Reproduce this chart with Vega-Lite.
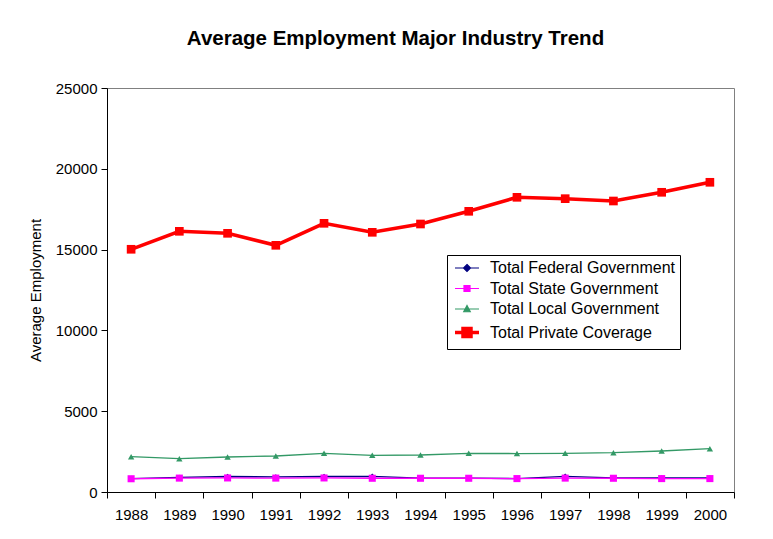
{
  "$schema": "https://vega.github.io/schema/vega-lite/v6.json",
  "width": 627,
  "height": 404,
  "autosize": {"type": "none"},
  "padding": {"left": 107, "top": 88, "right": 39, "bottom": 47},
  "background": "white",
  "title": {
    "text": "Average Employment Major Industry Trend",
    "font": "Liberation Sans",
    "fontSize": 20.5,
    "fontWeight": "bold",
    "color": "black",
    "anchor": "middle",
    "dx": -25,
    "offset": 32
  },
  "config": {
    "view": {"stroke": "#808080", "strokeWidth": 1},
    "axis": {
      "labelFont": "Liberation Sans",
      "labelFontSize": 15,
      "labelColor": "black",
      "titleFont": "Liberation Sans",
      "titleFontSize": 15,
      "titleFontWeight": "normal",
      "titleColor": "black",
      "domainColor": "black",
      "tickColor": "black",
      "grid": false
    }
  },
  "data": {
    "values": [
      {"year": "1988", "series": "Total Federal Government", "value": 830},
      {"year": "1989", "series": "Total Federal Government", "value": 900},
      {"year": "1990", "series": "Total Federal Government", "value": 960},
      {"year": "1991", "series": "Total Federal Government", "value": 930},
      {"year": "1992", "series": "Total Federal Government", "value": 960},
      {"year": "1993", "series": "Total Federal Government", "value": 970},
      {"year": "1994", "series": "Total Federal Government", "value": 860},
      {"year": "1995", "series": "Total Federal Government", "value": 860},
      {"year": "1996", "series": "Total Federal Government", "value": 830},
      {"year": "1997", "series": "Total Federal Government", "value": 970},
      {"year": "1998", "series": "Total Federal Government", "value": 880},
      {"year": "1999", "series": "Total Federal Government", "value": 870},
      {"year": "2000", "series": "Total Federal Government", "value": 870},
      {"year": "1988", "series": "Total State Government", "value": 820},
      {"year": "1989", "series": "Total State Government", "value": 860},
      {"year": "1990", "series": "Total State Government", "value": 870},
      {"year": "1991", "series": "Total State Government", "value": 860},
      {"year": "1992", "series": "Total State Government", "value": 870},
      {"year": "1993", "series": "Total State Government", "value": 850},
      {"year": "1994", "series": "Total State Government", "value": 850},
      {"year": "1995", "series": "Total State Government", "value": 850},
      {"year": "1996", "series": "Total State Government", "value": 830},
      {"year": "1997", "series": "Total State Government", "value": 860},
      {"year": "1998", "series": "Total State Government", "value": 850},
      {"year": "1999", "series": "Total State Government", "value": 830},
      {"year": "2000", "series": "Total State Government", "value": 830},
      {"year": "1988", "series": "Total Local Government", "value": 2184},
      {"year": "1989", "series": "Total Local Government", "value": 2061},
      {"year": "1990", "series": "Total Local Government", "value": 2166},
      {"year": "1991", "series": "Total Local Government", "value": 2228},
      {"year": "1992", "series": "Total Local Government", "value": 2393},
      {"year": "1993", "series": "Total Local Government", "value": 2270},
      {"year": "1994", "series": "Total Local Government", "value": 2290},
      {"year": "1995", "series": "Total Local Government", "value": 2393},
      {"year": "1996", "series": "Total Local Government", "value": 2380},
      {"year": "1997", "series": "Total Local Government", "value": 2393},
      {"year": "1998", "series": "Total Local Government", "value": 2432},
      {"year": "1999", "series": "Total Local Government", "value": 2537},
      {"year": "2000", "series": "Total Local Government", "value": 2680},
      {"year": "1988", "series": "Total Private Coverage", "value": 15020},
      {"year": "1989", "series": "Total Private Coverage", "value": 16132},
      {"year": "1990", "series": "Total Private Coverage", "value": 16008},
      {"year": "1991", "series": "Total Private Coverage", "value": 15266},
      {"year": "1992", "series": "Total Private Coverage", "value": 16627},
      {"year": "1993", "series": "Total Private Coverage", "value": 16070},
      {"year": "1994", "series": "Total Private Coverage", "value": 16584},
      {"year": "1995", "series": "Total Private Coverage", "value": 17370},
      {"year": "1996", "series": "Total Private Coverage", "value": 18236},
      {"year": "1997", "series": "Total Private Coverage", "value": 18152},
      {"year": "1998", "series": "Total Private Coverage", "value": 18007},
      {"year": "1999", "series": "Total Private Coverage", "value": 18546},
      {"year": "2000", "series": "Total Private Coverage", "value": 19165}
    ]
  },
  "encoding": {
    "x": {
      "field": "year",
      "type": "ordinal",
      "scale": {"type": "band", "paddingInner": 0, "paddingOuter": 0},
      "axis": {
        "title": null,
        "labelAngle": 0,
        "tickBand": "extent",
        "tickSize": 6,
        "labelPadding": 9
      }
    },
    "y": {
      "field": "value",
      "type": "quantitative",
      "scale": {"domain": [0, 25000], "nice": false},
      "axis": {
        "title": "Average Employment",
        "values": [0, 5000, 10000, 15000, 20000, 25000],
        "format": "d",
        "tickSize": 6,
        "labelPadding": 4,
        "titleX": -72,
        "titleY": 202,
        "titleAngle": -90,
        "titleAlign": "center",
        "titleBaseline": "middle"
      }
    },
    "color": {
      "field": "series",
      "type": "nominal",
      "scale": {
        "domain": ["Total Federal Government", "Total State Government", "Total Local Government", "Total Private Coverage"],
        "range": ["#000080", "#FF00FF", "#339966", "#FF0000"]
      },
      "legend": {
        "title": null,
        "orient": "none",
        "legendX": 340,
        "legendY": 167,
        "strokeColor": "black",
        "fillColor": "white",
        "padding": 5,
        "labelFont": "Liberation Sans",
        "labelFontSize": 16,
        "labelColor": "black",
        "labelLimit": 400,
        "rowPadding": 4.5,
        "symbolOffset": 7,
        "labelOffset": 15,
        "encode": {
          "symbols": {
            "update": {
              "shape": {"signal": "datum.value === 'Total Federal Government' ? 'M-2.4,0H2.4M0,-0.7L0.7,0L0,0.7L-0.7,0Z' : datum.value === 'Total Local Government' ? 'M-2.4,0H2.4M0,-0.7L0.65,0.55L-0.65,0.55Z' : datum.value === 'Total Private Coverage' ? 'M-2.4,0H2.4M-0.8,-0.8H0.8V0.8H-0.8Z' : 'M-2.4,0H2.4M-0.6,-0.6H0.6V0.6H-0.6Z'"},
              "strokeWidth": {"signal": "datum.value === 'Total Private Coverage' ? 3.5 : 1.2"},
              "stroke": {"signal": "scale('color', datum.value)"},
              "fill": {"signal": "scale('color', datum.value)"},
              "opacity": {"value": 1},
              "fillOpacity": {"value": 1},
              "strokeOpacity": {"value": 1}
            }
          }
        }
      }
    }
  },
  "layer": [
    {
      "transform": [{"filter": "datum.series !== 'Total Private Coverage'"}],
      "mark": {"type": "line", "strokeWidth": 1.3}
    },
    {
      "transform": [{"filter": "datum.series === 'Total Private Coverage'"}],
      "mark": {"type": "line", "strokeWidth": 3.5}
    },
    {
      "transform": [{"filter": "datum.series === 'Total Local Government'"}],
      "mark": {"type": "point", "shape": "triangle-up", "size": 40, "filled": true, "opacity": 1}
    },
    {
      "transform": [{"filter": "datum.series === 'Total Federal Government'"}],
      "mark": {"type": "point", "shape": "diamond", "size": 30, "filled": true, "opacity": 1}
    },
    {
      "transform": [{"filter": "datum.series === 'Total State Government'"}],
      "mark": {"type": "point", "shape": "square", "size": 50, "filled": true, "opacity": 1}
    },
    {
      "transform": [{"filter": "datum.series === 'Total Private Coverage'"}],
      "mark": {"type": "point", "shape": "square", "size": 75, "filled": true, "opacity": 1}
    }
  ]
}
